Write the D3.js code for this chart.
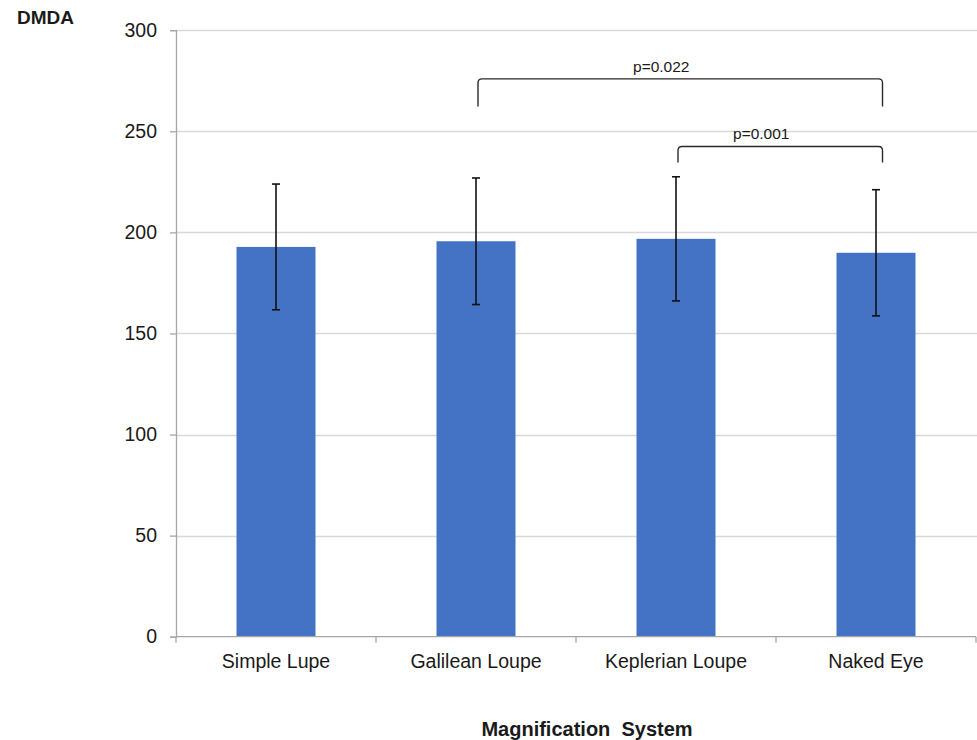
<!DOCTYPE html>
<html>
<head>
<meta charset="utf-8">
<script src="https://cdn.jsdelivr.net/npm/d3@7"></script>
<style>
  body { margin: 0; background: #fff; }
  svg text { font-family: "Liberation Sans", Arial, sans-serif; fill: #1a1a1a; }
</style>
</head>
<body>
<div id="chart"></div>
<script>
// Data
const categories = ["Simple Lupe", "Galilean Loupe", "Keplerian Loupe", "Naked Eye"];
const means = [192.8, 195.6, 196.8, 189.9];
const sds = [31.1, 31.3, 30.7, 31.2];
const yTicks = [0, 50, 100, 150, 200, 250, 300];

// significance brackets: from category, to category, top level, leg end level, label
const bracketFrom = ["Galilean Loupe", "Keplerian Loupe"];
const bracketTo = ["Naked Eye", "Naked Eye"];
const bracketTop = [275.9, 242.5];
const bracketLeg = [262.2, 234.6];
const bracketLabels = ["p=0.022", "p=0.001"];

const params = {
    width: 977,
    height: 740,
    margin: {top: 30, right: 1, bottom: 103, left: 176},
    barColor: "#4472C4",
    gridColor: "#d9d9d9",
    axisColor: "#a6a6a6",
    bracketShiftLeft: 2,
    bracketShiftRight: 6.5,
    bracketLabelShift: -19
};

const svg = d3.select("#chart")
    .append("svg")
    .attr("width", params.width)
    .attr("height", params.height);

const plotBottom = params.height - params.margin.bottom;

const y = d3.scaleLinear()
    .domain([0, 300])
    .range([plotBottom - 0.3, params.margin.top + 0.2]);

// outer bands, used for tick positions
const xOuter = d3.scaleBand()
    .domain(categories)
    .range([params.margin.left, params.width - params.margin.right])
    .padding(0);

// bars
const x = d3.scaleBand()
    .domain(categories)
    .range([params.margin.left, params.width - params.margin.right])
    .paddingInner(0.605)
    .paddingOuter(0.3025);

const cx = d => x(d) + x.bandwidth() / 2;

// gridlines
svg.append("g")
    .selectAll("line")
    .data(yTicks.filter(d => d > 0))
    .join("line")
    .attr("x1", params.margin.left)
    .attr("x2", params.width)
    .attr("y1", d => Math.round(y(d)) + 0.5)
    .attr("y2", d => Math.round(y(d)) + 0.5)
    .attr("stroke", params.gridColor)
    .attr("stroke-width", 1.3);

// y axis
const yAxis = svg.append("g")
    .attr("transform", `translate(${params.margin.left}, 0)`)
    .call(d3.axisLeft(y).tickValues(yTicks).tickSize(6).tickPadding(13));

yAxis.select(".domain").attr("stroke", params.axisColor).attr("stroke-width", 1.3);
yAxis.selectAll(".tick line").attr("stroke", params.axisColor).attr("stroke-width", 1.3);
yAxis.selectAll(".tick text")
    .attr("font-size", 19.5)
    .attr("fill", "#1a1a1a")
    .style("font-family", "'Liberation Sans', Arial, sans-serif");

// bars
svg.append("g")
    .selectAll("rect")
    .data(categories)
    .join("rect")
    .attr("x", d => x(d))
    .attr("width", x.bandwidth())
    .attr("y", (d, i) => y(means[i]))
    .attr("height", (d, i) => y(0) - y(means[i]))
    .attr("fill", params.barColor);

// x axis
const xAxisG = svg.append("g");

xAxisG.append("line")
    .attr("x1", params.margin.left)
    .attr("x2", params.width - params.margin.right)
    .attr("y1", y(0))
    .attr("y2", y(0))
    .attr("stroke", params.axisColor)
    .attr("stroke-width", 1.3);

const boundaries = categories.map(d => xOuter(d)).concat([xOuter(categories[categories.length - 1]) + xOuter.bandwidth()]);

xAxisG.selectAll(".xtick")
    .data(boundaries)
    .join("line")
    .attr("class", "xtick")
    .attr("x1", d => d)
    .attr("x2", d => d)
    .attr("y1", y(0))
    .attr("y2", y(0) + 6)
    .attr("stroke", params.axisColor)
    .attr("stroke-width", 1.3);

xAxisG.selectAll(".xlabel")
    .data(categories)
    .join("text")
    .attr("class", "xlabel")
    .attr("x", d => cx(d))
    .attr("y", y(0) + 31)
    .attr("text-anchor", "middle")
    .attr("font-size", 19.5)
    .text(d => d);

// error bars
const err = svg.append("g")
    .attr("stroke", "#111")
    .attr("stroke-width", 1.6);

categories.forEach((c, i) => {
    const top = y(means[i] + sds[i]);
    const bot = y(means[i] - sds[i]);
    err.append("line").attr("x1", cx(c)).attr("x2", cx(c)).attr("y1", top).attr("y2", bot);
    err.append("line").attr("x1", cx(c) - 4).attr("x2", cx(c) + 4).attr("y1", top).attr("y2", top);
    err.append("line").attr("x1", cx(c) - 4).attr("x2", cx(c) + 4).attr("y1", bot).attr("y2", bot);
});

// significance brackets
const r = 4;
bracketFrom.forEach((from, i) => {
    const x1 = cx(from) + params.bracketShiftLeft;
    const x2 = cx(bracketTo[i]) + params.bracketShiftRight;
    const yt = y(bracketTop[i]);
    const yl = y(bracketLeg[i]);
    const path = `M${x1},${yl} L${x1},${yt + r} Q${x1},${yt} ${x1 + r},${yt} L${x2 - r},${yt} Q${x2},${yt} ${x2},${yt + r} L${x2},${yl}`;
    svg.append("path")
        .attr("d", path)
        .attr("fill", "none")
        .attr("stroke", "#2a2a2a")
        .attr("stroke-width", 1.4);
    svg.append("text")
        .attr("x", (x1 + x2) / 2 + params.bracketLabelShift)
        .attr("y", yt - 7)
        .attr("text-anchor", "middle")
        .attr("font-size", 15.5)
        .text(bracketLabels[i]);
});

// axis titles
svg.append("text")
    .attr("x", 17)
    .attr("y", 24)
    .attr("font-size", 19)
    .attr("font-weight", "bold")
    .text("DMDA");

svg.append("text")
    .attr("x", 587)
    .attr("y", 736)
    .attr("text-anchor", "middle")
    .attr("font-size", 20)
    .attr("font-weight", "bold")
    .attr("xml:space", "preserve")
    .style("white-space", "pre")
    .text("Magnification  System");
</script>
</body>
</html>
